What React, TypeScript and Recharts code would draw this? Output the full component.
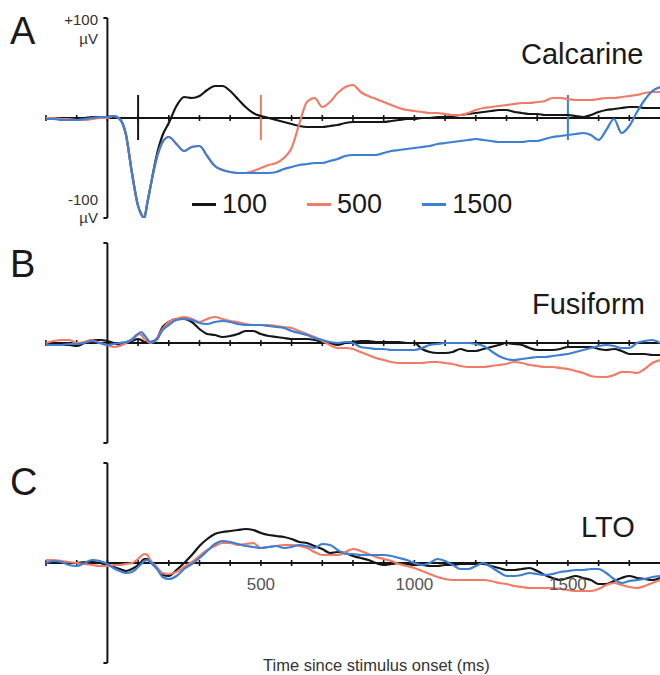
import React from 'react';
import { LineChart, Line, XAxis, YAxis, ReferenceLine, Legend } from 'recharts';

// time since stimulus onset (ms)
const TIME = [
  -200, -175, -150, -125, -100, -75, -50, -25, 0,
  20, 40, 60, 80, 100, 110, 120, 130, 140, 160, 180,
  200, 225, 250, 275, 300, 325, 350, 375, 400, 425, 450, 475,
  500, 525, 550, 575, 600, 625, 650, 675, 700, 725, 750, 775,
  800, 825, 850, 875, 900, 925, 950, 975, 1000, 1025, 1050, 1075,
  1100, 1125, 1150, 1175, 1200, 1225, 1250, 1275, 1300, 1325, 1350, 1375,
  1400, 1425, 1450, 1475, 1500, 1525, 1550, 1575, 1600, 1625, 1650, 1675,
  1700, 1725, 1750, 1775, 1800,
];

const SERIES_NAMES = ['100', '500', '1500'];
const SERIES_COLORS = ['#161616', '#f27b65', '#3c7fd3'];
const X_TICKS = [-200, -100, 0, 100, 200, 300, 400, 500, 600, 700, 800, 900, 1000, 1100, 1200, 1300, 1400, 1500, 1600, 1700];
const X_TICK_LABELS: Record<number, string> = { 500: '500', 1000: '1000', 1500: '1500' };
const MARKER_TIMES = [100, 500, 1500];

// Panel A: Calcarine (µV)
const A_100 = [
  0, 0, 0, 0, 0, 0, 1, 1, 1,
  2, -1, -16, -55, -88, -96, -100, -85, -69, -38, -17,
  -5, 12, 21, 20, 22, 28, 32, 32, 27, 19, 11, 5,
  2, 0, -2, -4, -6, -8, -9, -9, -9, -8, -7, -5,
  -4, -4, -4, -4, -4, -3, -2, -1, -1, 0, 0, 1,
  1, 2, 3, 4, 5, 6, 7, 8, 8, 6, 5, 4,
  4, 3, 3, 3, 3, 2, 1, 3, 6, 8, 9, 10,
  11, 11, 10, 10, 10,
];
const A_500 = [
  0, 0, -1, -1, -2, -2, -1, 0, 0,
  2, -1, -16, -55, -88, -96, -100, -85, -69, -41, -24,
  -19, -26, -33, -29, -28, -38, -48, -52, -54, -55, -55, -53,
  -50, -47, -45, -40, -30, -6, 16, 20, 11, 16, 25, 31,
  33, 26, 22, 19, 16, 13, 10, 8, 7, 6, 5, 5,
  4, 3, 3, 5, 8, 10, 11, 12, 13, 14, 15, 15,
  16, 17, 20, 20, 19, 18, 18, 18, 19, 20, 20, 21,
  22, 23, 25, 26, 26,
];
const A_1500 = [
  -1, -1, -2, -2, -2, -1, 0, 1, 1,
  2, -1, -16, -55, -88, -96, -100, -85, -69, -41, -24,
  -19, -26, -33, -29, -28, -38, -48, -52, -54, -55, -55, -55,
  -55, -55, -54, -51, -49, -47, -46, -45, -45, -43, -41, -38,
  -37, -37, -37, -37, -35, -33, -32, -31, -30, -29, -28, -26,
  -25, -24, -23, -22, -21, -22, -23, -24, -24, -24, -24, -23,
  -23, -21, -19, -18, -17, -16, -15, -17, -22, -12, -1, -15,
  -8, 6, 18, 27, 31,
];

// Panel B: Fusiform
const B_100 = [
  0, -1, -2, -2, -3, 0, 3, 3, 2,
  0, -2, 0, 2, 4, 3, 1, 1, 1, 4, 16,
  21, 24, 24, 21, 14, 9, 8, 6, 7, 9, 12, 12,
  9, 7, 6, 5, 4, 4, 4, 3, 1, 0, -2, 0,
  1, 2, 2, 1, 1, 1, 1, 0, 0, -6, -9, -10,
  -10, -9, -6, -8, -8, -6, -4, -2, 0, -1, -2, -5,
  -7, -7, -7, -6, -4, -4, -4, -4, -6, -7, -6, -8,
  -11, -11, -11, -12, -12,
];
const B_500 = [
  0, 2, 3, 3, 0, 1, 3, 0, -2,
  -4, -3, 0, 4, 9, 8, 4, 2, 0, 4, 14,
  21, 24, 26, 24, 21, 24, 26, 24, 22, 21, 19, 18,
  18, 18, 17, 16, 15, 12, 9, 6, 2, -2, -5, -5,
  -6, -9, -12, -15, -17, -19, -20, -20, -20, -20, -19, -19,
  -20, -21, -23, -24, -24, -24, -23, -22, -21, -19, -20, -22,
  -23, -24, -24, -25, -26, -28, -30, -33, -34, -34, -32, -29,
  -29, -30, -26, -20, -17,
];
const B_1500 = [
  -2, -2, -2, -1, -1, 0, 2, 0, -2,
  -1, 0, 1, 3, 9, 11, 8, 4, 1, 3, 13,
  18, 23, 24, 23, 20, 19, 21, 22, 21, 19, 18, 18,
  18, 17, 16, 15, 12, 10, 8, 5, 3, 1, 0, 1,
  0, -4, -5, -6, -6, -7, -7, -7, -7, -5, -2, -1,
  0, 0, 0, 0, -1, -3, -8, -13, -16, -17, -16, -15,
  -14, -14, -13, -12, -11, -9, -7, -5, -3, -2, -3, -5,
  -5, 0, 2, 3, 0,
];

// Panel C: LTO
const C_100 = [
  0, 0, 0, 0, 0, 1, 1, 0, -2,
  -4, -6, -8, -6, -2, 1, 4, 4, 1, -5, -12,
  -13, -7, 0, 8, 17, 24, 29, 31, 32, 33, 34, 33,
  30, 28, 27, 26, 24, 21, 20, 17, 14, 10, 11, 10,
  7, 5, 3, 0, -2, -1, 0, -1, -2, -2, -3, -3,
  -2, -2, -1, -1, -1, -1, -3, -5, -7, -7, -6, -5,
  -8, -12, -15, -17, -15, -13, -15, -17, -21, -21, -18, -15,
  -13, -15, -16, -17, -15,
];
const C_500 = [
  3, 3, 2, 1, 0, -1, -2, -3, -3,
  -2, -2, -1, 0, 4, 7, 9, 8, 3, -4, -10,
  -11, -9, -4, 1, 7, 13, 17, 20, 20, 18, 19, 20,
  15, 16, 17, 18, 18, 17, 15, 11, 8, 8, 8, 11,
  14, 12, 9, 6, 4, 2, -1, -3, -5, -8, -11, -14,
  -16, -17, -17, -17, -17, -17, -18, -20, -21, -23, -24, -25,
  -25, -25, -25, -26, -27, -28, -28, -28, -26, -22, -20, -22,
  -24, -25, -23, -20, -17,
];
const C_1500 = [
  0, 2, 1, -2, -3, 0, 3, 2, -1,
  -5, -8, -10, -9, -4, -1, 2, 3, 1, -5, -14,
  -16, -13, -6, -1, 5, 12, 19, 22, 21, 19, 17, 16,
  15, 16, 17, 15, 16, 18, 17, 15, 19, 18, 13, 9,
  9, 8, 8, 8, 8, 7, 5, 3, 0, -2, 0, 4,
  2, -2, -6, -6, -3, 0, -4, -9, -13, -13, -12, -10,
  -11, -12, -11, -9, -8, -7, -7, -6, -6, -10, -16, -20,
  -18, -17, -16, -14, -13,
];

const FONT = '"Liberation Sans", Arial, Helvetica, sans-serif';
const AXIS = '#141414';

const build = (s1: number[], s2: number[], s3: number[]) =>
  TIME.map((t, i) => ({ t, s0: s1[i], s1: s2[i], s2: s3[i] }));

const renderLegend = (props: any) => {
  const payload = [...(props.payload || [])].sort(
    (a: any, b: any) => SERIES_NAMES.indexOf(String(a.value)) - SERIES_NAMES.indexOf(String(b.value))
  );
  return (
    <div style={{ display: 'flex', alignItems: 'center', fontFamily: FONT, fontSize: 27, lineHeight: 1, color: '#1a1a1a' }}>
      {payload.map((p: any, i: number) => (
        <div key={i} style={{ display: 'flex', alignItems: 'center', marginRight: 40 }}>
          <span style={{ display: 'inline-block', width: 24, height: 3, background: p.color, marginRight: 6 }} />
          <span>{p.value}</span>
        </div>
      ))}
    </div>
  );
};

type PanelProps = { top: number; data: any[]; markers?: boolean; tickLabels?: boolean; legend?: boolean };

function Panel({ top, data, markers, tickLabels, legend }: PanelProps) {
  return (
    <div style={{ position: 'absolute', left: 0, top, width: 660, height: 220 }}>
      <LineChart width={660} height={220} data={data} margin={{ top: 10, right: 0, bottom: 10, left: 46 }}>
        <XAxis dataKey="t" type="number" domain={[-200, 1800]} hide allowDataOverflow />
        <YAxis type="number" domain={[-100, 100]} hide allowDataOverflow />
        <ReferenceLine y={0} stroke={AXIS} strokeWidth={2} />
        {X_TICKS.map((t) => (
          <ReferenceLine
            key={'tk' + t}
            segment={[{ x: t, y: 3 }, { x: t, y: -3 }]}
            stroke={AXIS}
            strokeWidth={1.6}
            label={
              tickLabels && X_TICK_LABELS[t]
                ? { value: X_TICK_LABELS[t], position: 'bottom', offset: 12, fill: '#555', fontSize: 17, fontFamily: FONT }
                : undefined
            }
          />
        ))}
        <ReferenceLine segment={[{ x: 0, y: 100 }, { x: 0, y: -100 }]} stroke={AXIS} strokeWidth={2} />
        <ReferenceLine segment={[{ x: -13, y: 100 }, { x: 0, y: 100 }]} stroke={AXIS} strokeWidth={2} />
        <ReferenceLine segment={[{ x: -13, y: -100 }, { x: 0, y: -100 }]} stroke={AXIS} strokeWidth={2} />
        {markers &&
          MARKER_TIMES.map((t, i) => (
            <ReferenceLine key={'mk' + t} segment={[{ x: t, y: 23 }, { x: t, y: -22 }]} stroke={SERIES_COLORS[i]} strokeWidth={2} />
          ))}
        {SERIES_NAMES.map((n, i) => (
          <Line
            key={n}
            dataKey={'s' + i}
            name={n}
            type="monotone"
            stroke={SERIES_COLORS[i]}
            strokeWidth={2.2}
            dot={false}
            activeDot={false}
            isAnimationActive={false}
          />
        ))}
        {legend && (
          <Legend
            layout="horizontal"
            verticalAlign="middle"
            align="center"
            content={renderLegend}
            wrapperStyle={{ left: 192, top: 183, width: 'auto', height: 'auto' }}
          />
        )}
      </LineChart>
    </div>
  );
}

const txt = (s: React.CSSProperties): React.CSSProperties => ({
  position: 'absolute',
  fontFamily: FONT,
  lineHeight: 1,
  color: '#1a1a1a',
  whiteSpace: 'nowrap',
  ...s,
});

export default function App() {
  return (
    <div style={{ position: 'absolute', left: 0, top: 0, width: 660, height: 675, background: '#fff', overflow: 'hidden' }}>
      <Panel top={8} data={build(A_100, A_500, A_1500)} markers legend />
      <Panel top={233} data={build(B_100, B_500, B_1500)} />
      <Panel top={453} data={build(C_100, C_500, C_1500)} tickLabels />

      <div style={txt({ left: 10, top: 12, fontSize: 38 })}>A</div>
      <div style={txt({ left: 10, top: 245, fontSize: 38 })}>B</div>
      <div style={txt({ left: 10, top: 463, fontSize: 38 })}>C</div>

      <div style={txt({ left: 521, top: 40, fontSize: 29 })}>Calcarine</div>
      <div style={txt({ left: 532, top: 290, fontSize: 29 })}>Fusiform</div>
      <div style={txt({ left: 581, top: 513, fontSize: 29 })}>LTO</div>

      <div style={txt({ left: 0, width: 98, textAlign: 'right', top: 12, fontSize: 15, color: '#333' })}>+100</div>
      <div style={txt({ left: 0, width: 98, textAlign: 'right', top: 31, fontSize: 15, color: '#333' })}>µV</div>
      <div style={txt({ left: 0, width: 98, textAlign: 'right', top: 192, fontSize: 15, color: '#333' })}>-100</div>
      <div style={txt({ left: 0, width: 98, textAlign: 'right', top: 210, fontSize: 15, color: '#333' })}>µV</div>

      <div style={txt({ left: 263, top: 657, fontSize: 16.5, color: '#333' })}>Time since stimulus onset (ms)</div>
    </div>
  );
}
